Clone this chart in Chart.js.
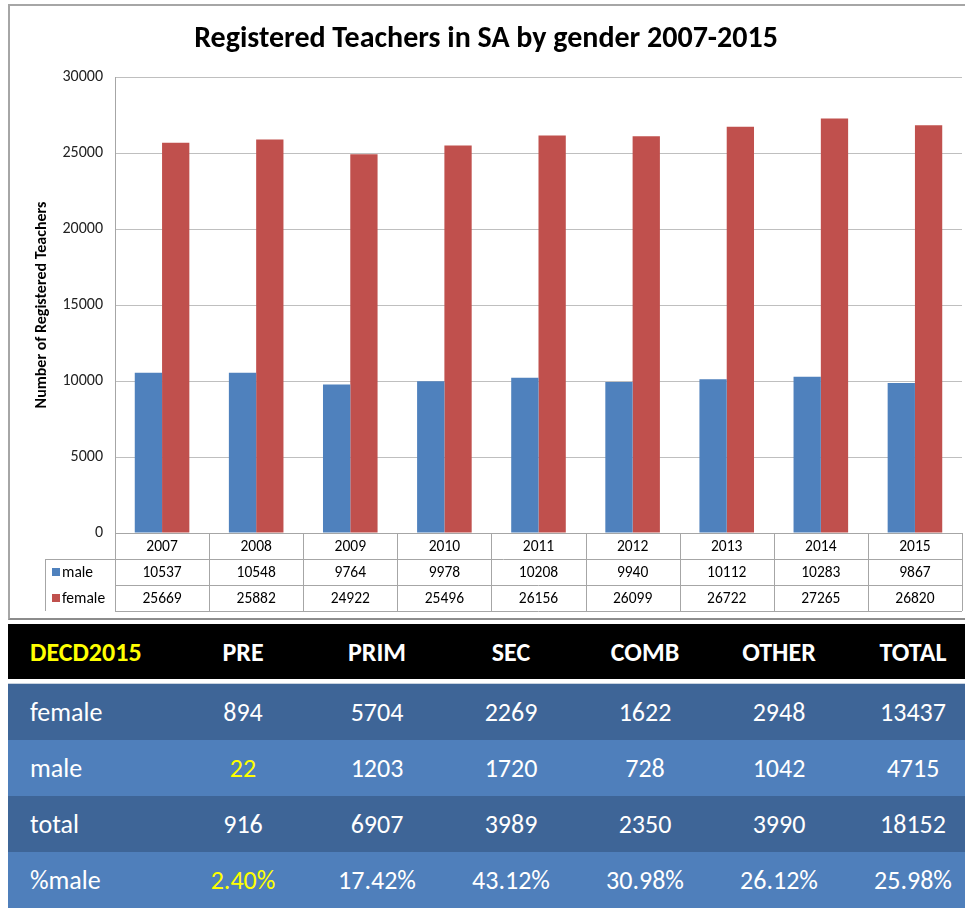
<!DOCTYPE html>
<html>
<head>
<meta charset="utf-8">
<script src="https://cdn.jsdelivr.net/npm/chart.js@4/dist/chart.umd.min.js"></script>
<style>
  body { margin: 0; background: #fff; width: 965px; height: 909px; overflow: hidden; position: relative; }
  #frame { position: absolute; left: 8px; top: 4px; width: 957px; height: 612px;
           border-top: 2px solid #a6a6a6; border-left: 2px solid #a6a6a6; border-bottom: 2px solid #8c8c8c; }
  #wrap { position: absolute; left: 0; top: 0; width: 957px; height: 612px; }
  #decd { position: absolute; left: 8px; top: 624px; width: 957px; height: 285px; overflow: hidden; }
  #decd table { border-collapse: collapse; table-layout: fixed; width: 972px;
                font-family: "Liberation Sans Narrow", Carlito, "Open Sans", sans-serif; font-size: 26px; color: #fff; }
  #decd td { text-align: center; padding: 0; white-space: nowrap; }
  #decd td:first-child { text-align: left; padding-left: 22px; }
  #decd tr.head td { background: #000; height: 55px; font-weight: bold; }
  #decd tr.gap td { background: #fff; height: 4px; border-bottom: 1px solid #c8d3e0; }
  #decd tr.dark td { background: #3e6597; height: 56px; }
  #decd tr.light td { background: #4f7fbb; height: 56px; }
  .yel { color: #ffff00; }
</style>
</head>
<body>
<div id="frame"><div id="wrap"><canvas id="teachers"></canvas></div></div>
<div id="decd"></div>
<script>
const years = ['2007', '2008', '2009', '2010', '2011', '2012', '2013', '2014', '2015'];
const maleTeachers = [10537, 10548, 9764, 9978, 10208, 9940, 10112, 10283, 9867];
const femaleTeachers = [25669, 25882, 24922, 25496, 26156, 26099, 26722, 27265, 26820];

const decdColumns = ['PRE', 'PRIM', 'SEC', 'COMB', 'OTHER', 'TOTAL'];
const decdFemale = ['894', '5704', '2269', '1622', '2948', '13437'];
const decdMale = ['22', '1203', '1720', '728', '1042', '4715'];
const decdTotal = ['916', '6907', '3989', '2350', '3990', '18152'];
const decdPctMale = ['2.40%', '17.42%', '43.12%', '30.98%', '26.12%', '25.98%'];

const FONT = '"Liberation Sans Narrow", Carlito, "Open Sans", sans-serif';
const BLUE = '#4f81bd';
const RED = '#c0504d';

// data table under the plot, lined up with the category scale
const dataTable = {
  id: 'dataTable',
  afterDraw(chart) {
    const ctx = chart.ctx;
    const x = chart.scales.x;
    const area = chart.chartArea;
    const n = years.length;
    const w = (area.right - area.left) / n;
    const rowH = 26;
    const top = area.bottom;
    const labelLeft = 35;
    ctx.save();
    ctx.strokeStyle = '#a6a6a6';
    ctx.lineWidth = 1;
    ctx.beginPath();
    for (let r = 1; r <= 3; r++) {
      const y = Math.round(top + r * rowH) + 0.5;
      ctx.moveTo(r === 1 ? labelLeft : area.left, y);
      ctx.lineTo(area.right, y);
    }
    for (let i = 0; i <= n; i++) {
      const xx = Math.round(area.left + i * w) + 0.5;
      ctx.moveTo(xx, top);
      ctx.lineTo(xx, top + 3 * rowH);
    }
    ctx.moveTo(labelLeft + 0.5, top + rowH);
    ctx.lineTo(labelLeft + 0.5, top + 3 * rowH);
    ctx.stroke();

    ctx.font = '15.5px ' + FONT;
    ctx.fillStyle = '#000';
    ctx.textAlign = 'center';
    ctx.textBaseline = 'middle';
    years.forEach((yr, i) => {
      const cx = x.getPixelForValue(i);
      ctx.fillText(yr, cx, top + rowH * 0.5 + 1);
      ctx.fillText(String(maleTeachers[i]), cx, top + rowH * 1.5 + 1);
      ctx.fillText(String(femaleTeachers[i]), cx, top + rowH * 2.5 + 1);
    });
    const series = [['male', BLUE], ['female', RED]];
    ctx.textAlign = 'left';
    series.forEach((s, k) => {
      const cy = top + rowH * (1.5 + k);
      ctx.fillStyle = s[1];
      ctx.fillRect(labelLeft + 7, cy - 4, 8, 8);
      ctx.fillStyle = '#000';
      ctx.fillText(s[0], labelLeft + 17, cy + 1);
    });
    ctx.restore();
  }
};

new Chart(document.getElementById('teachers'), {
  type: 'bar',
  data: {
    labels: years,
    datasets: [
      { label: 'male', data: maleTeachers, backgroundColor: BLUE, borderWidth: 0 },
      { label: 'female', data: femaleTeachers, backgroundColor: RED, borderWidth: 0 }
    ]
  },
  options: {
    responsive: true,
    maintainAspectRatio: false,
    animation: false,
    layout: { padding: { left: 0, right: 5, top: 0, bottom: 85 } },
    datasets: { bar: { categoryPercentage: 0.58, barPercentage: 1.0 } },
    plugins: {
      legend: { display: false },
      tooltip: { enabled: false },
      title: {
        display: true,
        text: 'Registered Teachers in SA by gender 2007-2015',
        color: '#000',
        font: { family: FONT, size: 30, weight: 'bold' },
        padding: { top: 15, bottom: 20 }
      }
    },
    scales: {
      x: {
        ticks: { display: false },
        grid: { display: false },
        border: { display: true, color: '#a6a6a6' },
        afterFit(scale) { scale.height = 0; }
      },
      y: {
        min: 0,
        max: 30000,
        ticks: {
          stepSize: 5000, color: '#222', padding: 12, font: { family: FONT, size: 16 },
          callback: (v) => String(v)
        },
        grid: { color: '#bfbfbf', drawTicks: false },
        border: { display: true, color: '#a6a6a6' },
        title: {
          display: true,
          text: 'Number of Registered Teachers',
          color: '#000',
          font: { family: FONT, size: 16, weight: 'bold' },
          padding: { top: 22, bottom: 0 }
        },
        afterFit(scale) { scale.width = 105; }
      }
    }
  },
  plugins: [dataTable]
});

// DECD 2015 summary table
const rows = [
  ['head', 'DECD2015', decdColumns],
  ['gap', '', null],
  ['dark', 'female', decdFemale],
  ['light', 'male', decdMale],
  ['dark', 'total', decdTotal],
  ['light', '%male', decdPctMale]
];
let html = '<table><colgroup><col style="width:168px">' + decdColumns.map(() => '<col style="width:134px">').join('') + '</colgroup>';
rows.forEach(([cls, label, vals]) => {
  html += '<tr class="' + cls + '">';
  if (!vals) {
    html += '<td colspan="7"></td>';
  } else {
    html += '<td' + (cls === 'head' ? ' class="yel"' : '') + '>' + label + '</td>';
    vals.forEach((v, i) => {
      const yellow = (label === 'male' || label === '%male') && i === 0;
      html += '<td' + (yellow ? ' class="yel"' : '') + '>' + v + '</td>';
    });
  }
  html += '</tr>';
});
html += '</table>';
document.getElementById('decd').innerHTML = html;
</script>
</body>
</html>
